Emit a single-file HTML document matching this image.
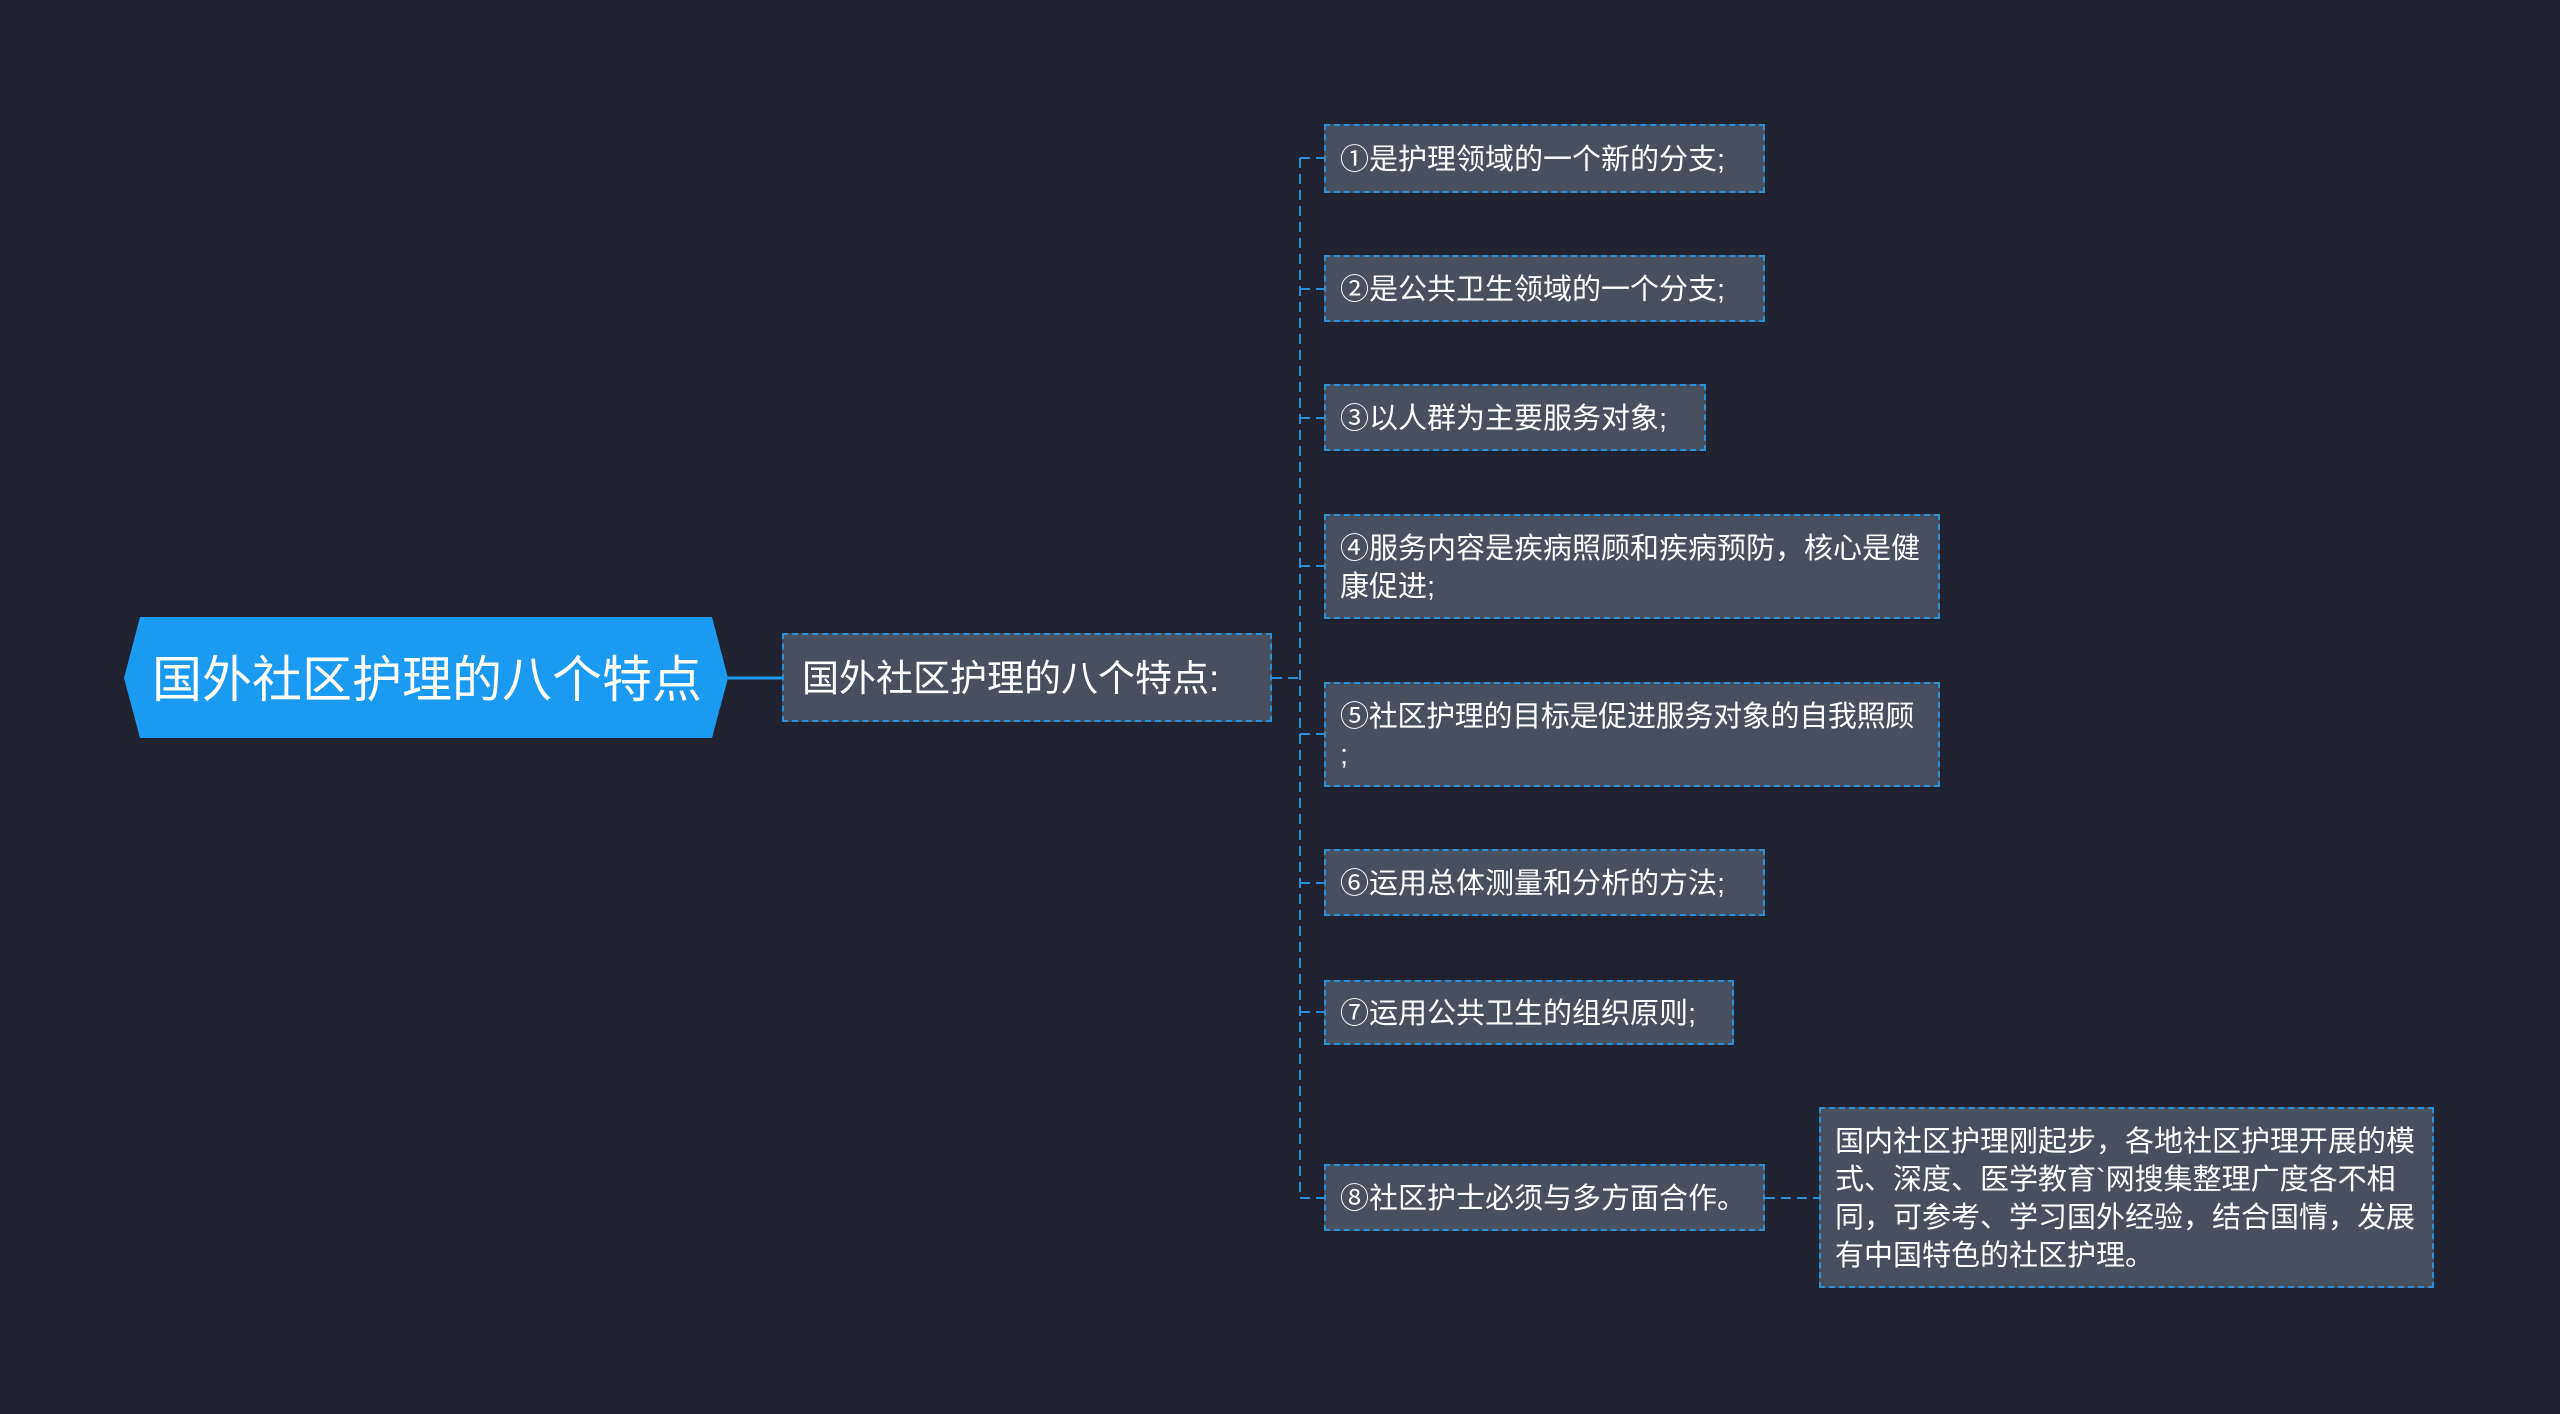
<!DOCTYPE html>
<html><head><meta charset="utf-8"><style>
html,body{margin:0;padding:0}
body{width:2560px;height:1414px;background:#20232f;position:relative;overflow:hidden;font-family:"Liberation Sans","Noto Sans CJK SC",sans-serif;color:#fff}
.b{position:absolute;box-sizing:border-box;background:#484f5e;border:2px dashed #2b8fd8;display:flex;align-items:center;padding:3px 14px 0;font-size:29px;line-height:38px;white-space:nowrap}
.w{white-space:normal;word-break:break-all}
</style></head><body>
<svg style="position:absolute;left:0;top:0" width="2560" height="1414">
<polygon points="124,678 140,617 712,617 728,678 712,738 140,738" fill="#1a9af0"/>
<line x1="728" y1="678" x2="782" y2="678" stroke="#1a9af0" stroke-width="3"/>
<line x1="1272" y1="678" x2="1300" y2="678" stroke="#2b8fd8" stroke-width="2" stroke-dasharray="10,6"/>
<line x1="1300" y1="158" x2="1300" y2="1198" stroke="#2b8fd8" stroke-width="2" stroke-dasharray="10,6"/>
<g stroke="#2b8fd8" stroke-width="2" stroke-dasharray="10,6">
<line x1="1300" y1="158" x2="1324" y2="158"/>
<line x1="1300" y1="289" x2="1324" y2="289"/>
<line x1="1300" y1="418" x2="1324" y2="418"/>
<line x1="1300" y1="566" x2="1324" y2="566"/>
<line x1="1300" y1="734" x2="1324" y2="734"/>
<line x1="1300" y1="883" x2="1324" y2="883"/>
<line x1="1300" y1="1012" x2="1324" y2="1012"/>
<line x1="1300" y1="1198" x2="1324" y2="1198"/>
<line x1="1765" y1="1198" x2="1819" y2="1198"/>
</g>
<text x="152" y="697" font-size="50" fill="#fff" font-family="Liberation Sans, Noto Sans CJK SC, sans-serif">国外社区护理的八个特点</text>
</svg>
<div class="b" style="left:782px;top:633px;width:490px;height:89px;font-size:37px;padding-left:18px">国外社区护理的八个特点:</div>
<div class="b" style="left:1324px;top:124px;width:441px;height:69px">①是护理领域的一个新的分支;</div>
<div class="b" style="left:1324px;top:255px;width:441px;height:67px">②是公共卫生领域的一个分支;</div>
<div class="b" style="left:1324px;top:384px;width:382px;height:67px">③以人群为主要服务对象;</div>
<div class="b w" style="left:1324px;top:514px;width:616px;height:105px;padding-right:4px">④服务内容是疾病照顾和疾病预防，核心是健康促进;</div>
<div class="b w" style="left:1324px;top:682px;width:616px;height:105px;padding-right:2px;letter-spacing:-0.3px">⑤社区护理的目标是促进服务对象的自我照顾<br>;</div>
<div class="b" style="left:1324px;top:849px;width:441px;height:67px">⑥运用总体测量和分析的方法;</div>
<div class="b" style="left:1324px;top:980px;width:410px;height:65px">⑦运用公共卫生的组织原则;</div>
<div class="b" style="left:1324px;top:1164px;width:441px;height:67px">⑧社区护士必须与多方面合作。</div>
<div class="b w" style="left:1819px;top:1107px;width:615px;height:181px;padding-right:6px">国内社区护理刚起步，各地社区护理开展的模式、深度、医学教育`网搜集整理广度各不相同，可参考、学习国外经验，结合国情，发展有中国特色的社区护理。</div>
</body></html>
